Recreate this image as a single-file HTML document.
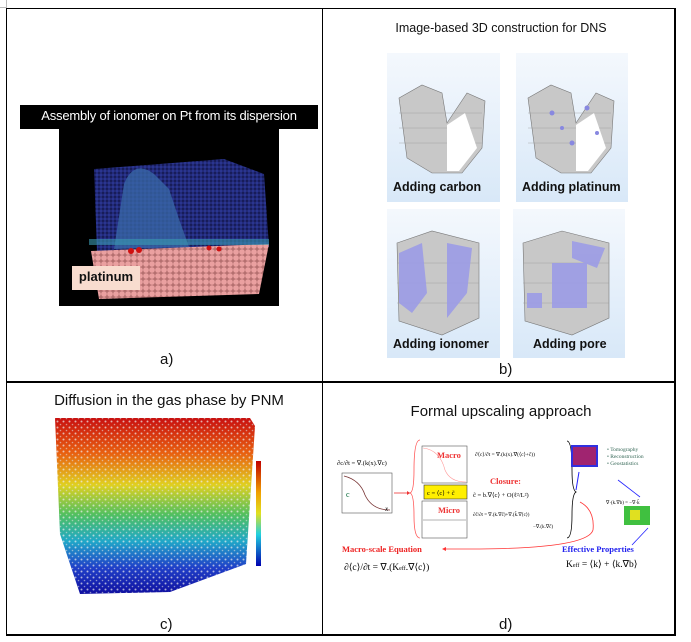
<!DOCTYPE html>
<html><head><meta charset="utf-8"><style>
body{margin:0;width:691px;height:642px;background:#fff;position:relative;overflow:hidden;font-family:"Liberation Sans","DejaVu Sans",sans-serif}
.a{position:absolute}
.t{position:absolute;white-space:nowrap;color:#111}
</style></head><body>
<div class="a" style="left:0;top:0;width:6px;height:7px;border-right:1px solid #bbb;border-bottom:1px solid #bbb"></div>
<div class="a" style="left:6px;top:8px;width:670px;height:628px;border:1px solid #000;border-right-width:2px;border-bottom-width:2px;box-sizing:border-box"></div>
<div class="a" style="left:322px;top:8px;width:1px;height:628px;background:#000"></div>
<div class="a" style="left:6px;top:381px;width:670px;height:2px;background:#000"></div>

<!-- panel a -->
<div class="a" style="left:59px;top:129px;width:220px;height:177px;background:#000"></div>
<svg class="a" style="left:59px;top:129px" width="220" height="177">
<defs><pattern id="dots" width="4" height="4" patternUnits="userSpaceOnUse"><rect width="4" height="4" fill="#141850"/><circle cx="2" cy="2" r="1.7" fill="#2a3590"/></pattern>
<pattern id="pt" width="6" height="6" patternUnits="userSpaceOnUse"><rect width="6" height="6" fill="#b57070"/><circle cx="3" cy="3" r="2.8" fill="#eaa0a0"/></pattern></defs>
<path d="M35 40 L165 30 L205 45 L210 118 L38 122 Z" fill="url(#dots)"/>
<path d="M65 55 Q75 30 95 45 L110 60 L120 90 L130 118 L55 120 Z" fill="#3a6aa8" opacity="0.75"/>
<path d="M32 122 L210 115 L200 165 L40 170 Z" fill="url(#pt)"/>
<rect x="30" y="110" width="180" height="6" fill="#3a9ab0" opacity=".6"/>
<g fill="#d01010"><circle cx="72" cy="122" r="3"/><circle cx="80" cy="121" r="3"/><circle cx="150" cy="119" r="2.5"/><circle cx="160" cy="120" r="2.5"/></g>
</svg>
<div class="a" style="left:20px;top:105px;width:298px;height:24px;background:#000"></div>
<div class="t" style="left:20px;top:108px;width:298px;text-align:center;color:#fff;font-size:13px;letter-spacing:-0.2px">Assembly of ionomer on Pt from its dispersion</div>
<div class="a" style="left:72px;top:266px;width:68px;height:24px;background:#f8dccf"></div>
<div class="t" style="left:72px;top:269px;width:68px;text-align:center;font-weight:bold;font-size:13px">platinum</div>
<div class="t" style="left:160px;top:351px;font-size:15px">a)</div>

<!-- panel b -->
<div class="t" style="left:323px;top:21px;width:356px;text-align:center;font-size:12.5px">Image-based 3D construction for DNS</div>
<svg class="a" style="left:387px;top:53px" width="242" height="305">
<defs><linearGradient id="bg" x1="0" y1="0" x2="0" y2="1"><stop offset="0" stop-color="#f4f8fd"/><stop offset="1" stop-color="#d8e8f8"/></linearGradient></defs>
<rect x="0" y="0" width="113" height="149" fill="url(#bg)"/>
<rect x="129" y="0" width="112" height="149" fill="url(#bg)"/>
<rect x="0" y="156" width="113" height="149" fill="url(#bg)"/>
<rect x="126" y="156" width="112" height="149" fill="url(#bg)"/>
<g fill="#c8c8c8" stroke="#777" stroke-width=".6">
<path d="M12 45 L35 32 L55 40 L60 70 L80 40 L98 48 L95 95 L75 120 L45 120 L20 105 Z"/>
<path d="M141 45 L164 32 L184 40 L189 70 L209 40 L227 48 L224 95 L204 120 L174 120 L149 105 Z"/>
<path d="M10 190 L45 178 L92 190 L92 265 L55 282 L12 268 Z"/>
<path d="M136 190 L175 178 L222 190 L222 265 L185 282 L138 268 Z"/>
</g>
<g stroke="#999" stroke-width=".4"><path d="M12 60 H95 M12 75 H95 M12 90 H95 M141 60 H224 M141 75 H224 M141 90 H224 M10 210 H92 M10 230 H92 M10 250 H92 M136 210 H222 M136 230 H222 M136 250 H222"/></g>
<g fill="#fff"><path d="M60 72 L78 60 L90 95 L72 118 L60 118 Z"/><path d="M189 72 L207 60 L219 95 L201 118 L189 118 Z"/></g>
<g fill="#9a9ae8" opacity=".85"><path d="M12 200 L35 190 L40 240 L25 260 L12 250 Z"/><path d="M60 190 L85 195 L80 240 L60 265 Z"/><rect x="165" y="210" width="35" height="45"/><path d="M185 188 L218 195 L210 215 L185 205 Z"/><rect x="140" y="240" width="15" height="15"/></g>
<g fill="#8888e0"><circle cx="165" cy="60" r="2.5"/><circle cx="175" cy="75" r="2"/><circle cx="200" cy="55" r="2.5"/><circle cx="210" cy="80" r="2"/><circle cx="185" cy="90" r="2.5"/></g>
</svg>
<div class="t" style="left:393px;top:180px;font-weight:bold;font-size:12.5px">Adding carbon</div>
<div class="t" style="left:522px;top:180px;font-weight:bold;font-size:12.5px">Adding platinum</div>
<div class="t" style="left:393px;top:337px;font-weight:bold;font-size:12.5px">Adding ionomer</div>
<div class="t" style="left:533px;top:337px;font-weight:bold;font-size:12.5px">Adding pore</div>
<div class="t" style="left:499px;top:361px;font-size:15px">b)</div>

<!-- panel c -->
<div class="t" style="left:7px;top:392px;width:316px;text-align:center;font-size:15px;padding-left:4px">Diffusion in the gas phase by PNM</div>
<svg class="a" style="left:50px;top:414px" width="215" height="182">
<defs><linearGradient id="cg" x1="0" y1="0" x2="0" y2="1"><stop offset="0" stop-color="#c81010"/><stop offset=".2" stop-color="#e86010"/><stop offset=".38" stop-color="#e0d020"/><stop offset=".55" stop-color="#50c060"/><stop offset=".7" stop-color="#20a8c8"/><stop offset=".85" stop-color="#2040c8"/><stop offset="1" stop-color="#1010a0"/></linearGradient>
<linearGradient id="cb" x1="0" y1="0" x2="0" y2="1"><stop offset="0" stop-color="#c00000"/><stop offset=".3" stop-color="#f0a000"/><stop offset=".5" stop-color="#e0e020"/><stop offset=".7" stop-color="#20d0e0"/><stop offset="1" stop-color="#0000b0"/></linearGradient>
<pattern id="sp" width="6" height="6" patternUnits="userSpaceOnUse"><circle cx="1.5" cy="1.5" r="1" fill="#eee" opacity=".7"/><circle cx="4.5" cy="4.5" r=".8" fill="#ddd" opacity=".6"/></pattern></defs>
<path d="M5 4 L200 4 L205 12 L196 150 L120 178 L30 180 L10 120 Z" fill="url(#cg)"/>
<path d="M5 4 L200 4 L205 12 L196 150 L120 178 L30 180 L10 120 Z" fill="url(#sp)"/>
<rect x="206" y="47" width="5" height="105" fill="url(#cb)"/>
</svg>
<div class="t" style="left:160px;top:616px;font-size:15px">c)</div>

<!-- panel d -->
<div class="t" style="left:323px;top:403px;width:356px;text-align:center;font-size:15px">Formal upscaling approach</div>
<svg class="a" style="left:330px;top:420px" width="350" height="170" font-family="Liberation Serif,serif">
<text x="7" y="45" font-size="6.5">∂c/∂t = ∇.(k(x).∇c)</text>
<rect x="12" y="53" width="50" height="40" fill="#fff" stroke="#555" stroke-width=".6"/>
<path d="M14 56 Q30 60 35 75 Q42 90 60 90" fill="none" stroke="#733" stroke-width=".8"/>
<text x="16" y="77" font-size="8" fill="#063">c</text><text x="55" y="91" font-size="7" font-style="italic">x</text>
<path d="M64 73 H80" stroke="#e33" stroke-width=".8"/><path d="M80 73 l-3 -2 v4z" fill="#e33"/>
<path d="M90 20 Q84 20 84 50 Q84 72 80 73 Q84 74 84 96 Q84 118 90 118" fill="none" stroke="#f55" stroke-width=".8"/>
<rect x="92" y="26" width="45" height="37" fill="#fff" stroke="#555" stroke-width=".6"/>
<path d="M93 28 Q110 30 115 50 Q120 62 136 62" fill="none" stroke="#f99" stroke-width=".6"/>
<text x="107" y="38" font-size="8.5" font-weight="bold" fill="#e33">Macro</text>
<rect x="94" y="65" width="43" height="14" fill="#ffef00" stroke="#333" stroke-width=".6"/>
<text x="97" y="75" font-size="6.5">c = ⟨c⟩ + c̃</text>
<rect x="92" y="81" width="45" height="37" fill="#fff" stroke="#555" stroke-width=".6"/>
<text x="108" y="93" font-size="8.5" font-weight="bold" fill="#e33">Micro</text>
<path d="M93 100 H136" stroke="#666" stroke-width=".5"/>
<text x="145" y="36" font-size="5.5">∂⟨c⟩/∂t = ∇.(k(x).∇(⟨c⟩+c̃))</text>
<text x="160" y="64" font-size="8.5" font-weight="bold" fill="#e33">Closure:</text>
<text x="143" y="77" font-size="6.5">c̃ = b.∇⟨c⟩ + O(ℓ²/L²)</text>
<text x="143" y="96" font-size="5">∂c̃/∂t = ∇.(k.∇c̃)+∇.(k̃.∇⟨c⟩)</text>
<text x="203" y="108" font-size="5">−∇.(k.∇c̃)</text>
<path d="M237 21 Q242 21 242 50 Q242 70 246 72 Q242 74 242 95 Q242 118 237 118" fill="none" stroke="#000" stroke-width=".8"/>
<rect x="241" y="25" width="27" height="22" fill="#3030e0"/><rect x="243" y="27" width="23" height="18" fill="#d02040" opacity=".7"/>
<path d="M246 70 L249 52" stroke="#22f" stroke-width="1"/>
<text x="277" y="31" font-size="5.5" fill="#365">• Tomography</text><text x="277" y="38" font-size="5.5" fill="#365">• Reconstruction</text><text x="277" y="45" font-size="5.5" fill="#365">• Geostatistics</text>
<path d="M288 60 L310 77" stroke="#22f" stroke-width=".8"/>
<text x="276" y="84" font-size="5">∇·(k.∇b) = −∇·k̃</text>
<rect x="294" y="86" width="26" height="19" fill="#40c040"/><rect x="300" y="90" width="10" height="10" fill="#e0e020"/>
<path d="M318 108 L302 125" stroke="#22f" stroke-width=".8"/>
<path d="M250 82 Q265 90 263 110 Q258 128 150 129 L113 129" fill="none" stroke="#f33" stroke-width=".8"/><path d="M112 129 l4 -2 v4z" fill="#f33"/>
<text x="12" y="132" font-size="8.5" font-weight="bold" fill="#e22">Macro-scale Equation</text>
<text x="14" y="150" font-size="9.5">∂⟨c⟩/∂t = ∇.(K<tspan font-size="6">eff</tspan>.∇⟨c⟩)</text>
<text x="232" y="132" font-size="8.5" font-weight="bold" fill="#22e">Effective Properties</text>
<text x="236" y="147" font-size="9.5">K<tspan font-size="6">eff</tspan> = ⟨k⟩ + ⟨k.∇b⟩</text>
</svg>
<div class="t" style="left:499px;top:616px;font-size:15px">d)</div>
</body></html>
